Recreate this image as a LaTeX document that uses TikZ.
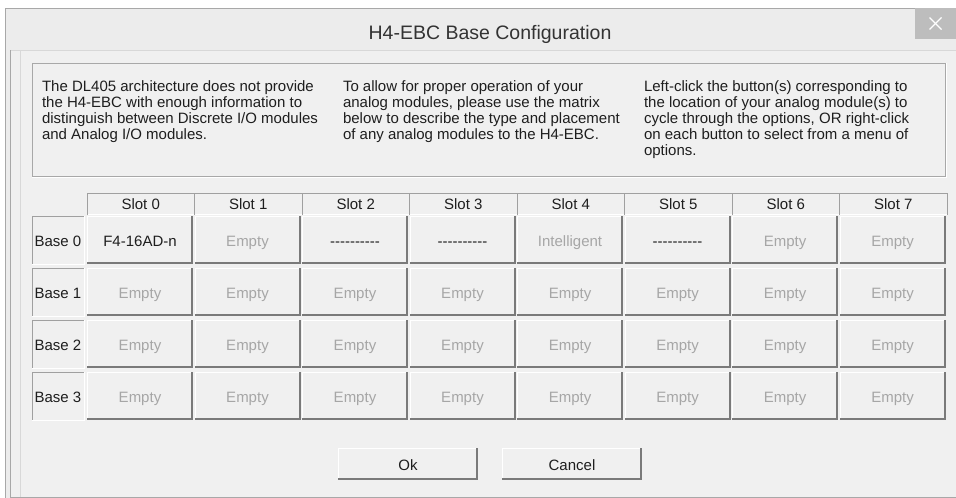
\documentclass[tikz,border=0pt]{standalone}
\usepackage{fontspec}
\setmainfont{Liberation Sans}
\usetikzlibrary{calc}
\definecolor{bg}{HTML}{F0F0F0}
\definecolor{titlebg}{HTML}{ECECEC}
\definecolor{framegray}{HTML}{A8A8A8}
\definecolor{lightline}{HTML}{D8D8D8}
\definecolor{hdrline}{HTML}{A0A0A0}
\definecolor{btndark}{HTML}{7A7A7A}
\definecolor{graytext}{HTML}{A6A6A6}
\definecolor{txt}{HTML}{1E1E1E}
\definecolor{titletxt}{HTML}{333333}
\definecolor{closebg}{HTML}{BDBDBD}
\newcommand\dashrow{-{}-{}-{}-{}-{}-{}-{}-{}-{}-}
\newcommand\bevelbox[1]{%
  \draw[white,line width=1pt] ($(#1.south west)+(0.5,-1)$) |- ($(#1.north east)+(-1,0.5)$);
  \draw[btndark,line width=2pt] ($(#1.north east)+(-1,0)$) -- ($(#1.south east)+(-1,-1)$) -- ($(#1.south west)+(0,-1)$);}
\begin{document}
\begin{tikzpicture}[x=1pt,y=-1pt,
  every node/.style={inner sep=0pt,outer sep=0pt},
  uitext/.style={font=\fontsize{15}{15.8}\selectfont, text=txt},
  hdr/.style={uitext, rectangle, anchor=north west, minimum width=107.5pt, minimum height=22pt, fill=bg},
  cellbtn/.style={uitext, rectangle, anchor=north west, minimum width=106pt, minimum height=48pt, fill=bg, text height=13pt, text depth=0pt},
  baselbl/.style={uitext, rectangle, anchor=north west, minimum width=52pt, minimum height=48pt, fill=bg, text height=13pt, text depth=0pt},
  dim/.style={text=graytext}]
\useasboundingbox (0,0) rectangle (956,498);
\fill[white] (0,0) rectangle (956,498);
% window frame
\fill[titlebg] (5,8) rectangle (956,498);
\draw[framegray] (5.5,498) -- (5.5,8.5) -- (956,8.5);
\fill[bg] (10,50) rectangle (956,497);
\draw[lightline] (10,50.5) -- (956,50.5);
\draw[framegray] (10.5,50) -- (10.5,497.5) -- (956,497.5);
\draw[lightline] (20.5,50) -- (20.5,497);
% title bar
\node[font=\fontsize{19.5}{23}\selectfont, text=titletxt] (title) at (490,34) {H4-EBC Base Configuration};
\node[fill=closebg, minimum width=41pt, minimum height=31pt, anchor=north west] (close) at (915,8) {};
\draw[white,line width=1.2pt] ($(close.center)+(-6,-6)$) -- ($(close.center)+(6,6)$);
\draw[white,line width=1.2pt] ($(close.center)+(-6,6)$) -- ($(close.center)+(6,-6)$);
% information box
\node[draw=framegray, fill=bg, minimum width=913pt, minimum height=113pt, anchor=north west] (info) at (32,63) {};
\draw[white] ($(info.south west)+(-0.5,1)$) -| ($(info.north east)+(1,-0.5)$);
\node[uitext, align=left, anchor=north west] (t1) at (42,81) {The DL405 architecture does not provide\\the H4-EBC with enough information to\\distinguish between Discrete I/O modules\\and Analog I/O modules.};
\node[uitext, align=left, anchor=north west] (t2) at (343,81) {To allow for proper operation of your\\analog modules, please use the matrix\\below to describe the type and placement\\of any analog modules to the H4-EBC.};
\node[uitext, align=left, anchor=north west] (t3) at (644,81) {Left-click the button(s) corresponding to\\the location of your analog module(s) to\\cycle through the options, OR right-click\\on each button to select from a menu of\\options.};
% header row
\foreach \c in {0,...,7} {
  \node[hdr] (h\c) at ({87+107.5*\c},193) {Slot \c};
  \draw[hdrline] (h\c.south west) -- (h\c.north west) -- (h\c.north east) -- (h\c.south east);
  \draw[white] ($(h\c.south west)+(0.5,-0.5)$) -- ($(h\c.south east)+(-0.5,-0.5)$);
}
% base labels
\foreach \r in {0,...,3} {
  \node[baselbl] (l\r) at (32,{216+52*\r}) {Base \r};
  \draw[hdrline] (l\r.south west) -- (l\r.north west) -- (l\r.north east);
  \draw[white] (l\r.north east) -- (l\r.south east) -- (l\r.south west);
}
% row 0
\foreach \c/\t/\s in {0/F4-16AD-n/txt, 1/Empty/graytext, 2/\dashrow/txt, 3/\dashrow/txt, 4/Intelligent/graytext, 5/\dashrow/txt, 6/Empty/graytext, 7/Empty/graytext} {
  \node[cellbtn, text=\s] (b0\c) at ({87+107.5*\c},216) {\t};
  \bevelbox{b0\c}
}
% rows 1-3
\foreach \r in {1,2,3} {
  \foreach \c in {0,...,7} {
    \node[cellbtn, dim] (b\r\c) at ({87+107.5*\c},{216+52*\r}) {Empty};
    \bevelbox{b\r\c}
  }
}
% buttons
\node[cellbtn, minimum width=140pt, minimum height=32pt] (ok) at (338,448) {Ok};
\bevelbox{ok}
\node[cellbtn, minimum width=140pt, minimum height=32pt] (cancel) at (502,448) {Cancel};
\bevelbox{cancel}
\end{tikzpicture}
\end{document}
